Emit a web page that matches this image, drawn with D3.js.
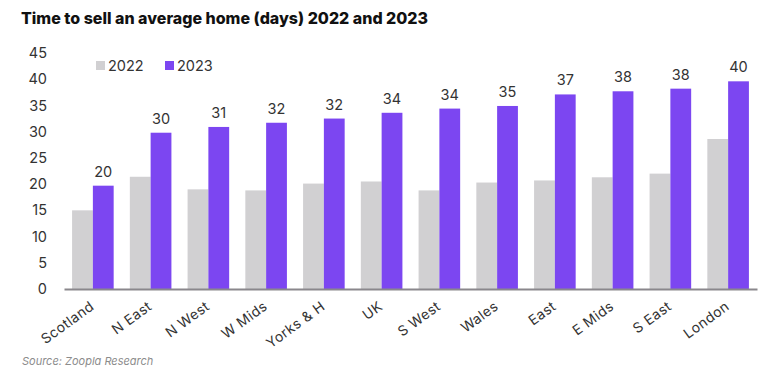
<!DOCTYPE html>
<html>
<head>
<meta charset="utf-8">
<script src="https://cdn.jsdelivr.net/npm/d3@7"></script>
<style>
  body { margin: 0; background: #fff; }
  text { font-family: "Inter", "Noto Sans", sans-serif; }
</style>
</head>
<body>
<div id="chart"></div>
<script>
// Data
var regions = ["Scotland", "N East", "N West", "W Mids", "Yorks & H", "UK", "S West", "Wales", "East", "E Mids", "S East", "London"];
var days2022 = [15.0, 21.4, 19.0, 18.8, 20.1, 20.5, 18.8, 20.3, 20.7, 21.3, 22.0, 28.6];
var days2023 = [19.7, 29.8, 30.9, 31.7, 32.5, 33.6, 34.4, 34.9, 37.1, 37.7, 38.2, 39.6];
var labels2023 = ["20", "30", "31", "32", "32", "34", "34", "35", "37", "38", "38", "40"];
var yTicks = [0, 5, 10, 15, 20, 25, 30, 35, 40, 45];
var seriesNames = ["2022", "2023"];

var width = 768, height = 375;
var margin = { top: 53, right: 11, bottom: 86, left: 64 };
var innerWidth = width - margin.left - margin.right;
var innerHeight = height - margin.top - margin.bottom;

var grey = "#d1d0d2";
var purple = "#7c46f1";
var textColor = "#333";

var svg = d3.select("#chart")
    .append("svg")
    .attr("width", width)
    .attr("height", height);

// Title
svg.append("text")
    .attr("x", 21)
    .attr("y", 24)
    .attr("font-size", 16)
    .attr("font-weight", 800)
    .attr("fill", "#111")
    .text("Time to sell an average home (days) 2022 and 2023");

var g = svg.append("g")
    .attr("transform", `translate(${margin.left}, ${margin.top})`);

// Scales
var x = d3.scaleBand()
    .domain(regions)
    .range([0, innerWidth])
    .paddingInner(0.28)
    .paddingOuter(0.14);

var xSub = d3.scaleBand()
    .domain(seriesNames)
    .range([0, x.bandwidth()]);

var y = d3.scaleLinear()
    .domain([0, 45])
    .range([innerHeight, 0]);

// Y axis labels (no line, no ticks)
var yAxis = g.append("g")
    .call(d3.axisLeft(y).tickValues(yTicks).tickSize(0).tickPadding(17));
yAxis.select(".domain").remove();
yAxis.selectAll("text")
    .attr("font-size", 14.5)
    .attr("fill", textColor)
    .style("font-family", "Inter, 'Noto Sans', sans-serif");

// Bars
var groups = g.selectAll(".grp")
    .data(regions)
    .enter().append("g")
    .attr("transform", d => `translate(${x(d)}, 0)`);

groups.append("rect")
    .attr("x", xSub("2022"))
    .attr("width", xSub.bandwidth())
    .attr("y", (d, i) => y(days2022[i]))
    .attr("height", (d, i) => innerHeight - y(days2022[i]))
    .attr("fill", grey);

groups.append("rect")
    .attr("x", xSub("2023"))
    .attr("width", xSub.bandwidth())
    .attr("y", (d, i) => y(days2023[i]))
    .attr("height", (d, i) => innerHeight - y(days2023[i]))
    .attr("fill", purple);

// Value labels on 2023 bars
groups.append("text")
    .attr("x", xSub("2023") + xSub.bandwidth() / 2)
    .attr("y", (d, i) => y(days2023[i]) - 9)
    .attr("text-anchor", "middle")
    .attr("font-size", 14.5)
    .attr("fill", textColor)
    .text((d, i) => labels2023[i]);

// X axis
var xAxis = g.append("g")
    .attr("transform", `translate(0, ${innerHeight})`)
    .call(d3.axisBottom(x).tickSize(0));
xAxis.select(".domain")
    .attr("stroke", "#8a878c")
    .attr("stroke-width", 2);
xAxis.selectAll("text")
    .attr("font-size", 14)
    .attr("fill", textColor)
    .attr("letter-spacing", 0.4)
    .style("font-family", "Inter, 'Noto Sans', sans-serif")
    .style("text-anchor", "end")
    .attr("x", 0)
    .attr("y", 0)
    .attr("dy", "0.75em")
    .attr("transform", "translate(-4, 11) rotate(-36)");

// Legend
var legend = svg.append("g").attr("transform", "translate(96, 61)");
var legendColors = [grey, purple];
seriesNames.forEach(function (name, i) {
    var item = legend.append("g").attr("transform", `translate(${i * 69}, 0)`);
    item.append("rect")
        .attr("width", 9)
        .attr("height", 9)
        .attr("fill", legendColors[i]);
    item.append("text")
        .attr("x", 12)
        .attr("y", 9.5)
        .attr("font-size", 14.5)
        .attr("fill", textColor)
        .text(name);
});

// Source note
svg.append("text")
    .attr("x", 22)
    .attr("y", 365)
    .attr("font-size", 11)
    .attr("font-style", "italic")
    .attr("fill", "#8c8c8c")
    .text("Source:  Zoopla Research");
</script>
</body>
</html>
